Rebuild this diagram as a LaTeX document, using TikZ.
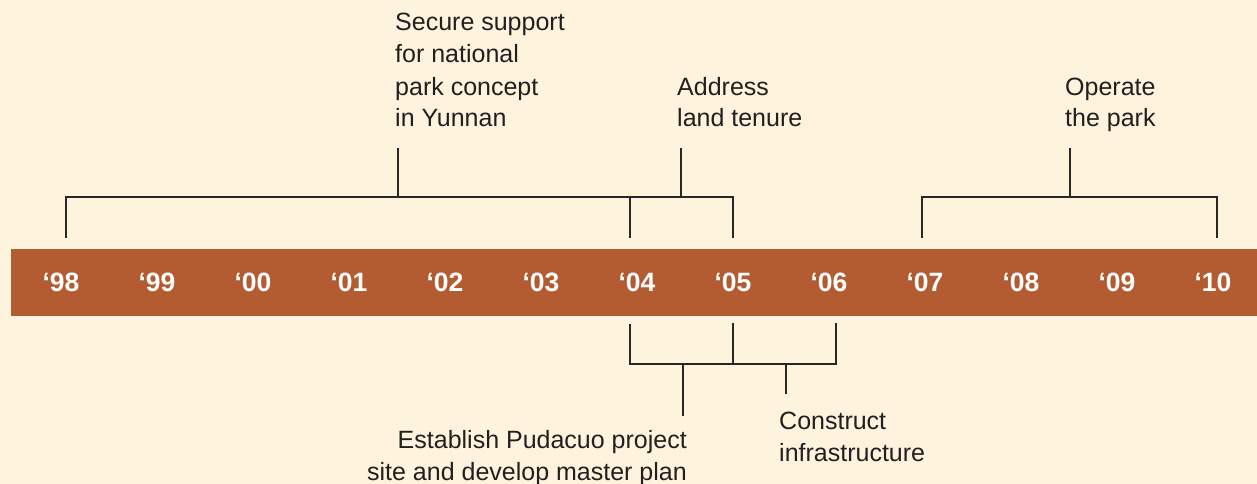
\documentclass[tikz,border=0pt]{standalone}
\usepackage{fontspec}
\setmainfont{Liberation Sans}
\usetikzlibrary{positioning}
\definecolor{paper}{RGB}{254,243,221}
\definecolor{rust}{RGB}{179,92,50}
\definecolor{ink}{RGB}{35,31,32}
\definecolor{rule}{RGB}{40,38,38}
\tikzset{
	year/.style={inner sep=0pt, text=white, font=\fontsize{26.5}{30}\selectfont\bfseries},
	task/.style={inner sep=0pt, text=ink, font=\fontsize{25}{32}\selectfont},
	bracket/.style={draw=rule, line width=2.9pt},
}

\begin{document}
\begin{tikzpicture}[x=1pt,y=-1pt,on grid]
	\fill[paper] (0,0) rectangle (1257,484);
	\useasboundingbox (0,0) rectangle (1257,484);
	\fill[rust] (11,249) rectangle (1257,316);
	% years on the band
	\draw node (y98)[year] at (61,282) {‘98};
	\draw node (y99)[year,right=96pt of y98] {‘99};
	\draw node (y00)[year,right=96pt of y99] {‘00};
	\draw node (y01)[year,right=96pt of y00] {‘01};
	\draw node (y02)[year,right=96pt of y01] {‘02};
	\draw node (y03)[year,right=96pt of y02] {‘03};
	\draw node (y04)[year,right=96pt of y03] {‘04};
	\draw node (y05)[year,right=96pt of y04] {‘05};
	\draw node (y06)[year,right=96pt of y05] {‘06};
	\draw node (y07)[year,right=96pt of y06] {‘07};
	\draw node (y08)[year,right=96pt of y07] {‘08};
	\draw node (y09)[year,right=96pt of y08] {‘09};
	\draw node (y10)[year,right=96pt of y09] {‘10};
	% tasks (base = last line)
	\draw node (secure)[task,align=left,anchor=base west] at (395,127) {Secure support\\for national\\park concept\\in Yunnan};
	\draw node (tenure)[task,align=left,anchor=base west] at (677,127) {Address\\land tenure};
	\draw node (operate)[task,align=left,anchor=base west] at (1065,127) {Operate\\the park};
	\draw node (pudacuo)[task,align=right,anchor=base east] at (687,480) {Establish Pudacuo project\\site and develop master plan};
	\draw node (build)[task,align=left,anchor=base west] at (779,461) {Construct\\infrastructure};
	% brackets above
	\coordinate (t98) at (66,238);
	\coordinate (t04) at (630,238);
	\coordinate (t05) at (733,238);
	\coordinate (t07) at (922,238);
	\coordinate (t10) at (1217,238);
	\coordinate (secureb) at (398,197);
	\coordinate (securet) at (398,148);
	\coordinate (tenureb) at (681,197);
	\coordinate (tenuret) at (681,148);
	\coordinate (operateb) at (1070,197);
	\coordinate (operatet) at (1070,148);
	\draw[bracket] (t98) |- (secureb) -| (t04);
	\draw[bracket] (t04) |- (tenureb) -| (t05);
	\draw[bracket] (t07) |- (operateb) -| (t10);
	\draw[bracket] (secureb)--(securet);
	\draw[bracket] (tenureb)--(tenuret);
	\draw[bracket] (operateb)--(operatet);
	% brackets below
	\coordinate (b04) at (630,324);
	\coordinate (b05) at (733,323);
	\coordinate (b06) at (836,323);
	\coordinate (pudacuob) at (683,364);
	\coordinate (pudacuot) at (683,416);
	\coordinate (buildb) at (786,364);
	\coordinate (buildt) at (786,394);
	\draw[bracket] (b04) |- (pudacuob) -| (b05);
	\draw[bracket] (b05) |- (buildb) -| (b06);
	\draw[bracket] (pudacuob)--(pudacuot);
	\draw[bracket] (buildb)--(buildt);
\end{tikzpicture}
\end{document}
